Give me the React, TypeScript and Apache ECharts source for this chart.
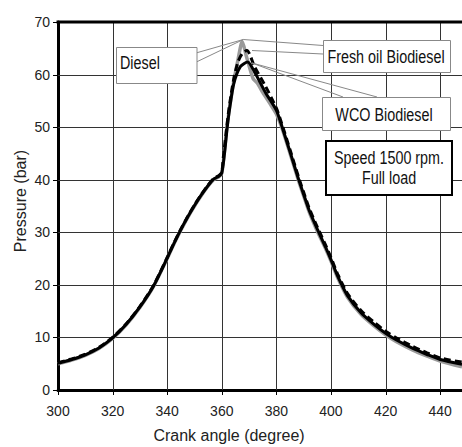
import React, { useEffect, useRef } from "react";
import * as echarts from "echarts";

// Crank angle (degree) and pressure (bar)
const dieselAngle = [300, 305, 310, 315, 320, 325, 330, 335, 340, 342.5, 345, 347.5, 350, 352.5, 355, 357, 359, 360, 361, 362, 364, 366, 367.5, 369, 371.5, 373, 375, 378, 380, 382, 385, 388, 390, 392, 395, 398, 400, 402.5, 406, 411, 416, 420, 424, 430, 435, 440, 448];
const dieselPressure = [5.0, 5.7, 6.6, 7.9, 9.8, 12.4, 15.7, 19.7, 25.0, 27.8, 30.4, 32.8, 35.0, 37.0, 38.8, 40.0, 40.6, 41.2, 45.5, 50.5, 57.5, 63, 66.3, 63.5, 59.2, 58.4, 56.6, 54.2, 52.5, 49.9, 45, 40, 36.9, 33.9, 30.2, 26.9, 24.5, 21.3, 17.7, 14.4, 12.1, 10.5, 9.2, 7.6, 6.5, 5.5, 4.4];

const freshAngle = [300, 305, 310, 315, 320, 325, 330, 335, 340, 342.5, 345, 347.5, 350, 352.5, 355, 357, 359, 360, 360.5, 361.5, 362.5, 363.5, 364.5, 366, 367.5, 369.2, 372, 376, 380, 382, 385, 388, 390, 392, 395, 398, 400, 402.5, 406, 411, 416, 420, 424, 430, 435, 440, 448];
const freshPressure = [5.2, 5.9, 6.8, 8.1, 10.0, 12.6, 15.9, 19.9, 25.2, 28.0, 30.6, 33.0, 35.2, 37.2, 39.0, 40.2, 40.8, 41.4, 44, 48.5, 53, 56.5, 59.5, 62.5, 64, 64.6, 61.5, 57.8, 53.6, 50.6, 45.7, 40.7, 37.6, 34.6, 31, 27.6, 25.2, 22, 18.4, 15.1, 12.8, 11.2, 9.9, 8.3, 7.1, 6.1, 5.3];

const wcoAngle = [300, 305, 310, 315, 320, 325, 330, 335, 340, 342.5, 345, 347.5, 350, 352.5, 355, 357, 359, 360, 361, 362, 363, 364.4, 366.8, 369.5, 372, 376, 380, 382, 385, 388, 390, 392, 395, 398, 400, 402.5, 406, 411, 416, 420, 424, 430, 435, 440, 448];
const wcoPressure = [5.1, 5.8, 6.7, 8.0, 9.9, 12.5, 15.8, 19.8, 25.1, 27.9, 30.5, 32.9, 35.1, 37.1, 38.9, 40.1, 40.7, 41.3, 45, 50, 54, 58.3, 61.5, 62.4, 60.5, 56.6, 53.2, 50.2, 45.3, 40.3, 37.2, 34.2, 30.6, 27.2, 24.8, 21.6, 18, 14.7, 12.4, 10.8, 9.5, 7.9, 6.8, 5.8, 4.9];

// axis ranges, tick and grid line positions
const angleRange = [300, 448];
const pressureRange = [0, 70];
const angleTicks = [300, 320, 340, 360, 380, 400, 420, 440];
const pressureTicks = [0, 10, 20, 30, 40, 50, 60, 70];
const angleGrid = [320, 340, 360, 380, 400, 420, 440];
const pressureGrid = [10, 20, 30, 40, 50, 60];

const xTitle = "Crank angle (degree)";
const yTitle = "Pressure (bar)";
const seriesNames = ["Diesel", "Fresh oil Biodiesel", "WCO Biodiesel"];
const noteLines = ["Speed 1500 rpm.", "Full load"];

const FONT = "'Liberation Sans', Arial, sans-serif";

function pairs(xs: number[], ys: number[]) {
  return xs.map((x, i) => [x, ys[i]]);
}

function boxText(text: string, x: number, y: number, align: string = "center") {
  return {
    type: "text",
    x,
    y,
    scaleX: 0.82,
    z: 110,
    style: {
      text,
      fontSize: 17.5,
      fontFamily: FONT,
      fill: "#111",
      align,
      verticalAlign: "middle",
      textAlign: align,
      textVerticalAlign: "middle",
    },
  };
}

function seg(x1: number, y1: number, x2: number, y2: number, stroke: string, lineWidth: number, z: number) {
  return { type: "line", z, silent: true, shape: { x1, y1, x2, y2 }, style: { stroke, lineWidth } };
}

export default function App() {
  const ref = useRef<HTMLDivElement>(null);

  useEffect(() => {
    if (!ref.current) return;
    const chart = echarts.init(ref.current, undefined, { renderer: "svg" });
    chart.setOption({
      animation: false,
      grid: { left: 58, top: 22, width: 407, height: 368, show: false },
      xAxis: {
        type: "value",
        min: angleRange[0],
        max: angleRange[1],
        interval: 20,
        axisLine: { show: true, onZero: false, lineStyle: { color: "#000", width: 3 } },
        axisTick: { show: false },
        axisLabel: { fontSize: 14, color: "#222", fontFamily: FONT, margin: 14, showMaxLabel: false },
        splitLine: { show: false },
      },
      yAxis: {
        type: "value",
        min: pressureRange[0],
        max: pressureRange[1],
        interval: 10,
        axisLine: { show: true, onZero: false, lineStyle: { color: "#000", width: 3 } },
        axisTick: { show: false },
        axisLabel: { fontSize: 14, color: "#222", fontFamily: FONT, margin: 8 },
        splitLine: { show: false },
      },
      series: [
        {
          name: seriesNames[0],
          type: "line",
          data: pairs(dieselAngle, dieselPressure),
          showSymbol: false,
          smooth: 0.25,
          z: 3,
          lineStyle: { color: "#9a9a9a", width: 3.5 },
        },
        {
          name: seriesNames[2],
          type: "line",
          data: pairs(wcoAngle, wcoPressure),
          showSymbol: false,
          smooth: 0.25,
          z: 4,
          lineStyle: { color: "#000", width: 3 },
        },
        {
          name: seriesNames[1],
          type: "line",
          data: pairs(freshAngle, freshPressure),
          showSymbol: false,
          smooth: 0.25,
          z: 5,
          lineStyle: { color: "#000", width: 3, type: [7, 4] },
        },
      ],
    });

    // grid lines and ticks placed through the chart's own axis scales
    const toPx = (x: number, y: number) => chart.convertToPixel({ gridIndex: 0 }, [x, y]) as number[];
    const snap = (v: number) => Math.round(v) + 0.5;
    const gridGraphics: any[] = [];
    angleGrid.forEach((v) => {
      const a = toPx(v, pressureRange[0]);
      const b = toPx(v, pressureRange[1]);
      gridGraphics.push(seg(snap(a[0]), a[1], snap(b[0]), b[1], "#333", 1, 2));
    });
    pressureGrid.forEach((v) => {
      const a = toPx(angleRange[0], v);
      const b = toPx(angleRange[1], v);
      gridGraphics.push(seg(a[0], snap(a[1]), b[0], snap(b[1]), "#333", 1, 2));
    });
    angleTicks.forEach((v) => {
      const a = toPx(v, pressureRange[0]);
      gridGraphics.push(seg(snap(a[0]), a[1] + 1, snap(a[0]), a[1] + 5, "#000", 1, 2));
    });
    pressureTicks.forEach((v) => {
      const a = toPx(angleRange[0], v);
      gridGraphics.push(seg(a[0] - 5, snap(a[1]), a[0] - 1, snap(a[1]), "#000", 1, 2));
    });

    chart.setOption({
      graphic: [
        ...gridGraphics,
        // top border of the plot
        seg(56.5, 22, 462, 22, "#000", 3, 90),
        // leader lines
        { type: "polyline", z: 100, shape: { points: [[197, 52.7], [243.3, 39.5], [197, 61.7]] }, style: { stroke: "#888", lineWidth: 1, fill: null } },
        seg(243.3, 39.5, 323, 45.5, "#888", 1, 100),
        seg(252, 50.5, 323, 54, "#888", 1, 100),
        { type: "polyline", z: 100, shape: { points: [[343, 97], [252, 63], [377, 97]] }, style: { stroke: "#888", lineWidth: 1, fill: null } },
        // boxes
        { type: "rect", z: 105, shape: { x: 116.5, y: 47.5, width: 80.5, height: 36 }, style: { fill: "#fff", stroke: "#888", lineWidth: 1 } },
        { type: "rect", z: 105, shape: { x: 323.5, y: 40.5, width: 127, height: 32 }, style: { fill: "#fff", stroke: "#888", lineWidth: 1 } },
        { type: "rect", z: 105, shape: { x: 322.5, y: 97.5, width: 128, height: 33 }, style: { fill: "#fff", stroke: "#888", lineWidth: 1 } },
        { type: "rect", z: 105, shape: { x: 326, y: 141, width: 126, height: 54 }, style: { fill: "#fff", stroke: "#000", lineWidth: 2 } },
        boxText(seriesNames[0], 120, 63, "left"),
        boxText(seriesNames[1], 386, 57),
        boxText(seriesNames[2], 384, 114.5),
        boxText(noteLines[0], 389, 157.5),
        boxText(noteLines[1], 389, 178),
        // axis titles
        {
          type: "text",
          x: 229,
          y: 435,
          z: 110,
          style: { text: xTitle, fontSize: 16, fontFamily: FONT, fill: "#222", align: "center", verticalAlign: "middle", textAlign: "center", textVerticalAlign: "middle" },
        },
        {
          type: "text",
          x: 20,
          y: 201,
          rotation: Math.PI / 2,
          z: 110,
          style: { text: yTitle, fontSize: 16, fontFamily: FONT, fill: "#222", align: "center", verticalAlign: "middle", textAlign: "center", textVerticalAlign: "middle" },
        },
      ],
    });
    return () => chart.dispose();
  }, []);

  return <div ref={ref} style={{ position: "absolute", left: 0, top: 0, width: 462, height: 447 }} />;
}
